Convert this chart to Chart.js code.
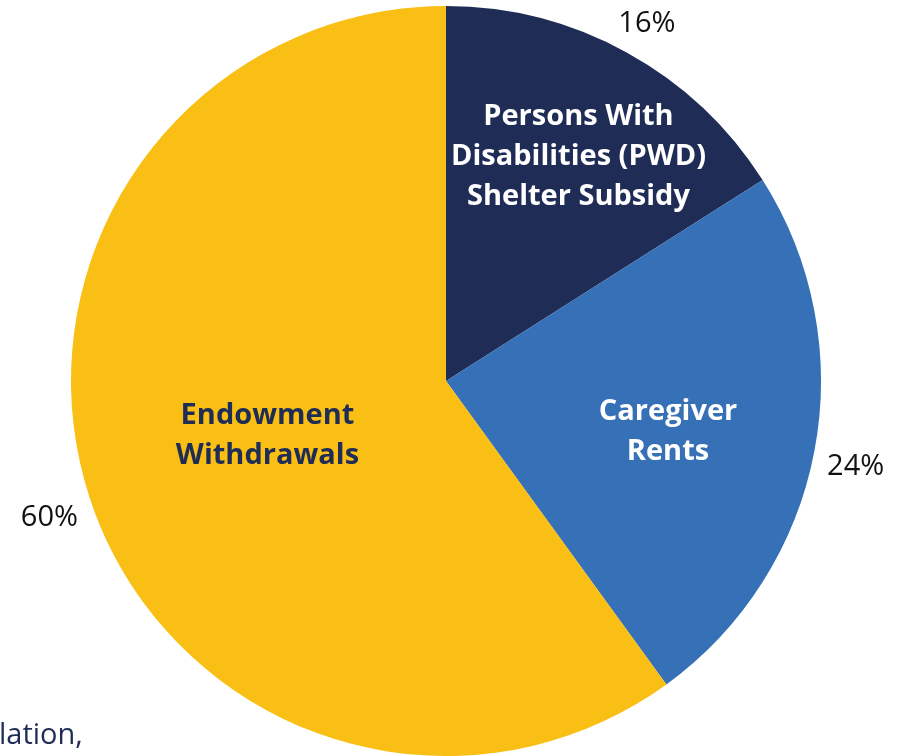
<!DOCTYPE html>
<html>
<head>
<meta charset="utf-8">
<script src="https://cdn.jsdelivr.net/npm/chart.js@4/dist/chart.umd.min.js"></script>
<style>
  html, body { margin: 0; padding: 0; background: #fff; }
  #wrap { width: 898px; height: 756px; position: relative; }
</style>
</head>
<body>
<div id="wrap"><canvas id="pie" width="898" height="756"></canvas></div>
<script>
// ========================
// DATA
// ========================
const categories = [
    ['Persons With', 'Disabilities (PWD)', 'Shelter Subsidy'],
    ['Caregiver', 'Rents'],
    ['Endowment', 'Withdrawals']
];
const shares = [16, 24, 60];
const pctLabels = ['16%', '24%', '60%'];

const sliceColors = ['#1f2d56', '#3670b6', '#f9bf15'];
const nameColors = ['#ffffff', '#ffffff', '#1f2d56'];

// ========================
// LABELS PLUGIN
// ========================
const sliceLabels = {
    id: 'sliceLabels',
    afterDatasetsDraw(chart, args, opts) {
        const ctx = chart.ctx;
        const arcs = chart.getDatasetMeta(0).data;

        ctx.save();
        ctx.textAlign = 'center';
        ctx.textBaseline = 'middle';

        arcs.forEach((arc, i) => {
            const mid = (arc.startAngle + arc.endAngle) / 2;
            const r = arc.outerRadius;

            // name inside slice
            const nr = r * opts.nameRadius[i];
            const nx = arc.x + Math.cos(mid) * nr + opts.nameShift[i][0];
            const ny = arc.y + Math.sin(mid) * nr + opts.nameShift[i][1];
            const lines = categories[i];
            ctx.font = 'bold 29px "Open Sans"';
            ctx.fillStyle = nameColors[i];
            lines.forEach((ln, j) => {
                ctx.fillText(ln, nx, ny + (j - (lines.length - 1) / 2) * opts.lineHeight);
            });

            // percentage outside
            const pr = r + opts.pctGap;
            ctx.font = '29px "Open Sans"';
            ctx.fillStyle = '#111111';
            ctx.fillText(pctLabels[i],
                arc.x + Math.cos(mid) * pr,
                arc.y + Math.sin(mid) * pr + opts.pctShift);
        });

        // cropped footnote fragment
        ctx.textAlign = 'left';
        ctx.textBaseline = 'alphabetic';
        ctx.font = '29px "Open Sans"';
        ctx.fillStyle = '#1f2d56';
        ctx.fillText('lation,', -1, 744);

        ctx.restore();
    }
};

new Chart(document.getElementById('pie').getContext('2d'), {
    type: 'pie',
    data: {
        labels: categories.map(c => c.join(' ')),
        datasets: [{
            data: shares,
            backgroundColor: sliceColors,
            borderWidth: 0
        }]
    },
    options: {
        responsive: false,
        animation: false,
        layout: {
            padding: { left: 71, right: 77, top: 6, bottom: 0 }
        },
        plugins: {
            legend: { display: false },
            tooltip: { enabled: false },
            sliceLabels: {
                nameRadius: [0.70, 0.60, 0.495],
                nameShift: [[6, 6], [1, 9], [-2, -3]],
                lineHeight: 40,
                pctGap: 42,
                pctShift: 8
            }
        }
    },
    plugins: [sliceLabels]
});
</script>
</body>
</html>
